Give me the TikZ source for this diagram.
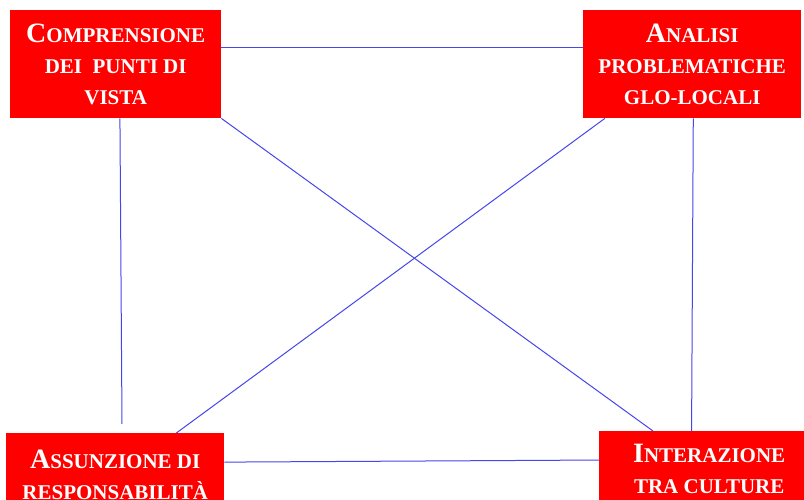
\documentclass[tikz,border=0pt]{standalone}
\usepackage{fontspec}
\setmainfont{Liberation Serif}
\usetikzlibrary{calc}
\definecolor{boxred}{RGB}{255,0,0}
\definecolor{linkblue}{RGB}{70,70,235}
\newcommand\Ini[1]{{\fontsize{28}{31}\selectfont #1}}
\tikzset{
  boxnode/.style={rectangle, fill=boxred, text=white, align=center, inner sep=0pt,
    anchor=north west, font=\fontsize{21}{31}\selectfont\bfseries},
  link/.style={draw=linkblue, line width=1pt}
}
\begin{document}
\begin{tikzpicture}[x=1pt,y=-1pt]
\clip (0,0) rectangle (804,500);
\fill[white] (0,0) rectangle (804,500);
\node[boxnode, minimum width=211pt, minimum height=108pt] (A) at (10,10)
  {\Ini{C}OMPRENSIONE\\DEI\ \ PUNTI DI\\VISTA};
\node[boxnode, minimum width=218pt, minimum height=108pt] (B) at (583,10)
  {\Ini{A}NALISI\\PROBLEMATICHE\\GLO-LOCALI};
\node[boxnode, minimum width=218pt, minimum height=84pt] (C) at (6,433)
  {\Ini{A}SSUNZIONE DI\\RESPONSABILITÀ};
\node[boxnode, minimum width=220pt, minimum height=76pt] (D) at (599,431)
  {\Ini{I}NTERAZIONE\\TRA CULTURE};
\coordinate (cend) at (122,424);
\draw[link] ($(A.north east)!0.343!(A.south east)$) -- ($(B.north west)!0.343!(B.south west)$);
\draw[link] ($(A.south west)!0.52!(A.south east)$) -- (cend);
\draw[link] (A.south east) -- ($(D.north west)!0.245!(D.north east)$);
\draw[link] ($(B.south west)!0.1!(B.south east)$) -- ($(C.north west)!0.78!(C.north east)$);
\draw[link] ($(B.south west)!0.505!(B.south east)$) -- ($(D.north west)!0.42!(D.north east)$);
\draw[link] ($(C.north east)!0.345!(C.south east)$) -- ($(D.north west)!0.38!(D.south west)$);
\end{tikzpicture}
\end{document}
